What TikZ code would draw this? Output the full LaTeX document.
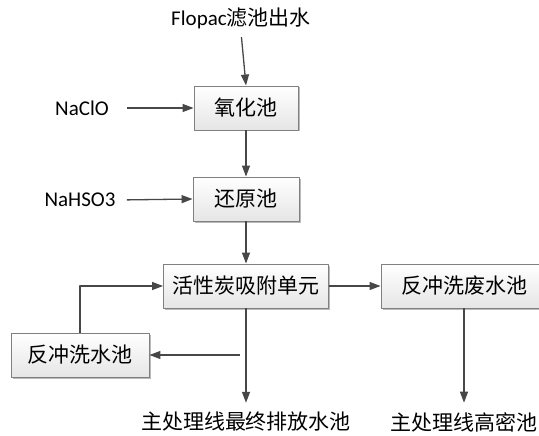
\documentclass[tikz,border=0pt]{standalone}
\usepackage{fontspec}
\setmainfont{Carlito}
\newfontfamily\cjk{Noto Sans CJK SC}
\usetikzlibrary{arrows.meta,shadows}

\begin{document}
\begin{tikzpicture}[x=1pt,y=-1pt,line join=round,
  txt/.style={font=\fontsize{21}{24}\selectfont},
  box/.style={draw=black!50,line width=0.9pt,top color=white,bottom color=black!10,
    minimum height=44pt,inner sep=0pt,font=\fontsize{21}{24}\selectfont\cjk,
    drop shadow={shadow xshift=1.5pt,shadow yshift=-1.5pt,fill=black!45,opacity=0.6}},
  arr/.style={draw=black!72,line width=1.3pt,-{Triangle[length=11pt,width=8pt]}}]
  \useasboundingbox (0,0) rectangle (539,436);
  \node[txt] (flo) at (241,18) {Flopac{\cjk 滤池出水}};
  \node[box,minimum width=104pt] (yh) at (246,108) {氧化池};
  \node[txt] (nac) at (82,108) {NaClO};
  \node[box,minimum width=106pt] (hy) at (246,199) {还原池};
  \node[txt] (nah) at (80,200) {NaHSO3};
  \node[box,minimum width=165pt] (hx) at (246,286) {活性炭吸附单元};
  \node[box,minimum width=166pt] (fsw) at (464,286) {反冲洗废水池};
  \node[box,minimum width=138pt] (fcs) at (80,355) {反冲洗水池};
  \node[txt,font=\fontsize{21}{24}\selectfont\cjk] (zp) at (246,422) {主处理线最终排放水池};
  \node[txt,font=\fontsize{21}{24}\selectfont\cjk] (zg) at (464,422) {主处理线高密池};
  \coordinate (br) at (240,355);
  \draw[arr,shorten <=5pt] (flo.south) -- (yh.north);
  \draw[arr,shorten <=15pt] (nac.east) -- (yh.west);
  \draw[arr] (yh) -- (hy);
  \draw[arr,shorten <=8pt] (nah.east) -- (hy.west);
  \draw[arr] (hy) -- (hx);
  \draw[arr] (hx) -- (fsw);
  \draw[arr] (fcs.north) |- (hx.west);
  \draw[arr] (br) -- (fcs.east);
  \draw[arr,shorten >=6pt] (hx) -- (zp);
  \draw[arr,shorten >=6pt] (fsw) -- (zg);
\end{tikzpicture}
\end{document}
